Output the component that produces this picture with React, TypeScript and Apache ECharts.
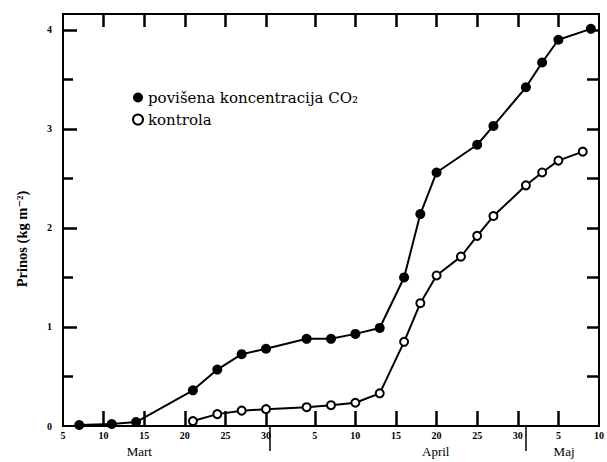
import React, { useEffect, useRef } from "react";
import * as echarts from "echarts";

// Days counted from 1 March (April d = 31 + d, May d = 61 + d)
const co2Days = [7, 11, 14, 21, 24, 27, 30, 35, 38, 41, 44, 47, 49, 51, 56, 58, 62, 64, 66, 70];
const co2Values = [0.01, 0.02, 0.04, 0.36, 0.57, 0.725, 0.78, 0.88, 0.88, 0.93, 0.99, 1.5, 2.14, 2.56, 2.84, 3.03, 3.42, 3.67, 3.9, 4.01];

const controlDays = [21, 24, 27, 30, 35, 38, 41, 44, 47, 49, 51, 54, 56, 58, 62, 64, 66, 69];
const controlValues = [0.05, 0.12, 0.155, 0.17, 0.19, 0.21, 0.235, 0.33, 0.85, 1.24, 1.52, 1.71, 1.92, 2.12, 2.43, 2.56, 2.68, 2.77];

const xLabelDays = [5, 10, 15, 20, 25, 30, 36, 41, 46, 51, 56, 61, 66, 71];
const xTickDays = [10, 15, 20, 25, 30, 36, 41, 46, 51, 56, 61, 66];
const monthDividers = [30.5, 62];
const monthNames = ["Mart", "April", "Maj"];
const monthLabelDays = [14.4, 50.9, 66.7];

const yLabels = [0, 1, 2, 3, 4];
const yMajorTicks = [1, 2, 3, 4];
const yMinorTicks = [0.5, 1.5, 2.5, 3.5];
const yAllTicks = [0.5, 1, 1.5, 2, 2.5, 3, 3.5, 4];

const seriesNames = ["povišena koncentracija CO₂", "kontrola"];
const yTitle = "Prinos (kg m⁻²)";

const SERIF = "'Liberation Serif', 'DejaVu Serif', serif";
const WIDE_SERIF = "'DejaVu Serif', serif";

function dayLabel(v: number): string {
  if (v <= 31) return String(v);
  if (v <= 61) return String(v - 31);
  return String(v - 61);
}

export default function App() {
  const ref = useRef<HTMLDivElement>(null);
  useEffect(() => {
    if (!ref.current) return;
    const chart = echarts.init(ref.current, undefined, { renderer: "svg" });
    const black = "#000";
    chart.setOption({
      animation: false,
      backgroundColor: "#fff",
      grid: {
        left: 63,
        top: 14,
        width: 539,
        height: 412,
        containLabel: false,
        show: true,
        borderColor: black,
        borderWidth: 2,
        backgroundColor: "transparent",
      },
      legend: {
        orient: "vertical",
        left: 132,
        top: 90,
        padding: 0,
        itemWidth: 10,
        itemHeight: 10,
        itemGap: 7,
        textStyle: { fontFamily: WIDE_SERIF, fontSize: 15, color: black },
        data: [
          { name: seriesNames[0], icon: "circle", itemStyle: { color: black, borderWidth: 0 } },
          { name: seriesNames[1], icon: "circle", itemStyle: { color: "#fff", borderColor: black, borderWidth: 2 } },
        ],
      },
      graphic: [
        {
          type: "text",
          x: 22,
          y: 239,
          rotation: Math.PI / 2,
          style: {
            text: yTitle,
            fontFamily: SERIF,
            fontWeight: "bold",
            fontSize: 14.5,
            fill: black,
            align: "center",
            verticalAlign: "middle",
          },
        },
      ],
      xAxis: [
        {
          type: "value",
          min: 5,
          max: 71,
          splitLine: { show: false },
          position: "bottom",
          axisLine: { show: true, onZero: false, lineStyle: { color: black, width: 2 } },
          axisTick: { show: true, inside: true, length: 15, customValues: xTickDays, lineStyle: { color: black, width: 2.5 } },
          axisLabel: {
            customValues: xLabelDays,
            formatter: (v: number) => dayLabel(v),
            fontFamily: SERIF,
            fontWeight: "bold",
            fontSize: 10,
            color: black,
            margin: 4,
          },
        },
        {
          type: "value",
          min: 5,
          max: 71,
          splitLine: { show: false },
          position: "top",
          axisLine: { show: true, onZero: false, lineStyle: { color: black, width: 2 } },
          axisTick: { show: true, inside: true, length: 13, customValues: xTickDays, lineStyle: { color: black, width: 2.5 } },
          axisLabel: { show: false },
        },
        {
          type: "value",
          min: 5,
          max: 71,
          splitLine: { show: false },
          position: "bottom",
          axisLine: { show: false, onZero: false },
          axisTick: { show: true, inside: false, length: 25, customValues: monthDividers, lineStyle: { color: black, width: 1.5 } },
          axisLabel: {
            customValues: monthLabelDays,
            formatter: (v: number) => monthNames[monthLabelDays.indexOf(v)] ?? "",
            fontFamily: SERIF,
            fontSize: 13,
            color: black,
            margin: 19,
          },
        },
      ],
      yAxis: [
        {
          type: "value",
          min: 0,
          max: 4.16,
          splitLine: { show: false },
          position: "left",
          axisLine: { show: true, lineStyle: { color: black, width: 2 } },
          axisTick: { show: true, inside: true, length: 14, customValues: yMajorTicks, lineStyle: { color: black, width: 2.5 } },
          axisLabel: {
            customValues: yLabels,
            fontFamily: SERIF,
            fontWeight: "bold",
            fontSize: 10,
            color: black,
            margin: 11,
          },
        },
        {
          type: "value",
          min: 0,
          max: 4.16,
          splitLine: { show: false },
          position: "left",
          axisLine: { show: false, onZero: false },
          axisTick: { show: true, inside: true, length: 10, customValues: yMinorTicks, lineStyle: { color: black, width: 2.5 } },
          axisLabel: { show: false },
        },
        {
          type: "value",
          min: 0,
          max: 4.16,
          splitLine: { show: false },
          position: "right",
          axisLine: { show: true, onZero: false, lineStyle: { color: black, width: 2 } },
          axisTick: { show: true, inside: true, length: 12, customValues: yAllTicks, lineStyle: { color: black, width: 2.5 } },
          axisLabel: { show: false },
        },
      ],
      series: [
        {
          name: seriesNames[0],
          type: "line",
          xAxisIndex: 0,
          yAxisIndex: 0,
          data: co2Days.map((d, i) => [d, co2Values[i]]),
          symbol: "circle",
          symbolSize: 10,
          lineStyle: { color: black, width: 2 },
          itemStyle: { color: black, borderWidth: 0 },
          z: 3,
        },
        {
          name: seriesNames[1],
          type: "line",
          xAxisIndex: 0,
          yAxisIndex: 0,
          data: controlDays.map((d, i) => [d, controlValues[i]]),
          symbol: "circle",
          symbolSize: 8,
          lineStyle: { color: black, width: 2 },
          itemStyle: { color: "#fff", borderColor: black, borderWidth: 2 },
          z: 4,
        },
      ],
    });
    return () => chart.dispose();
  }, []);
  return (
    <div
      ref={ref}
      style={{ position: "absolute", left: 0, top: 0, width: 607, height: 462, background: "#fff" }}
    />
  );
}
